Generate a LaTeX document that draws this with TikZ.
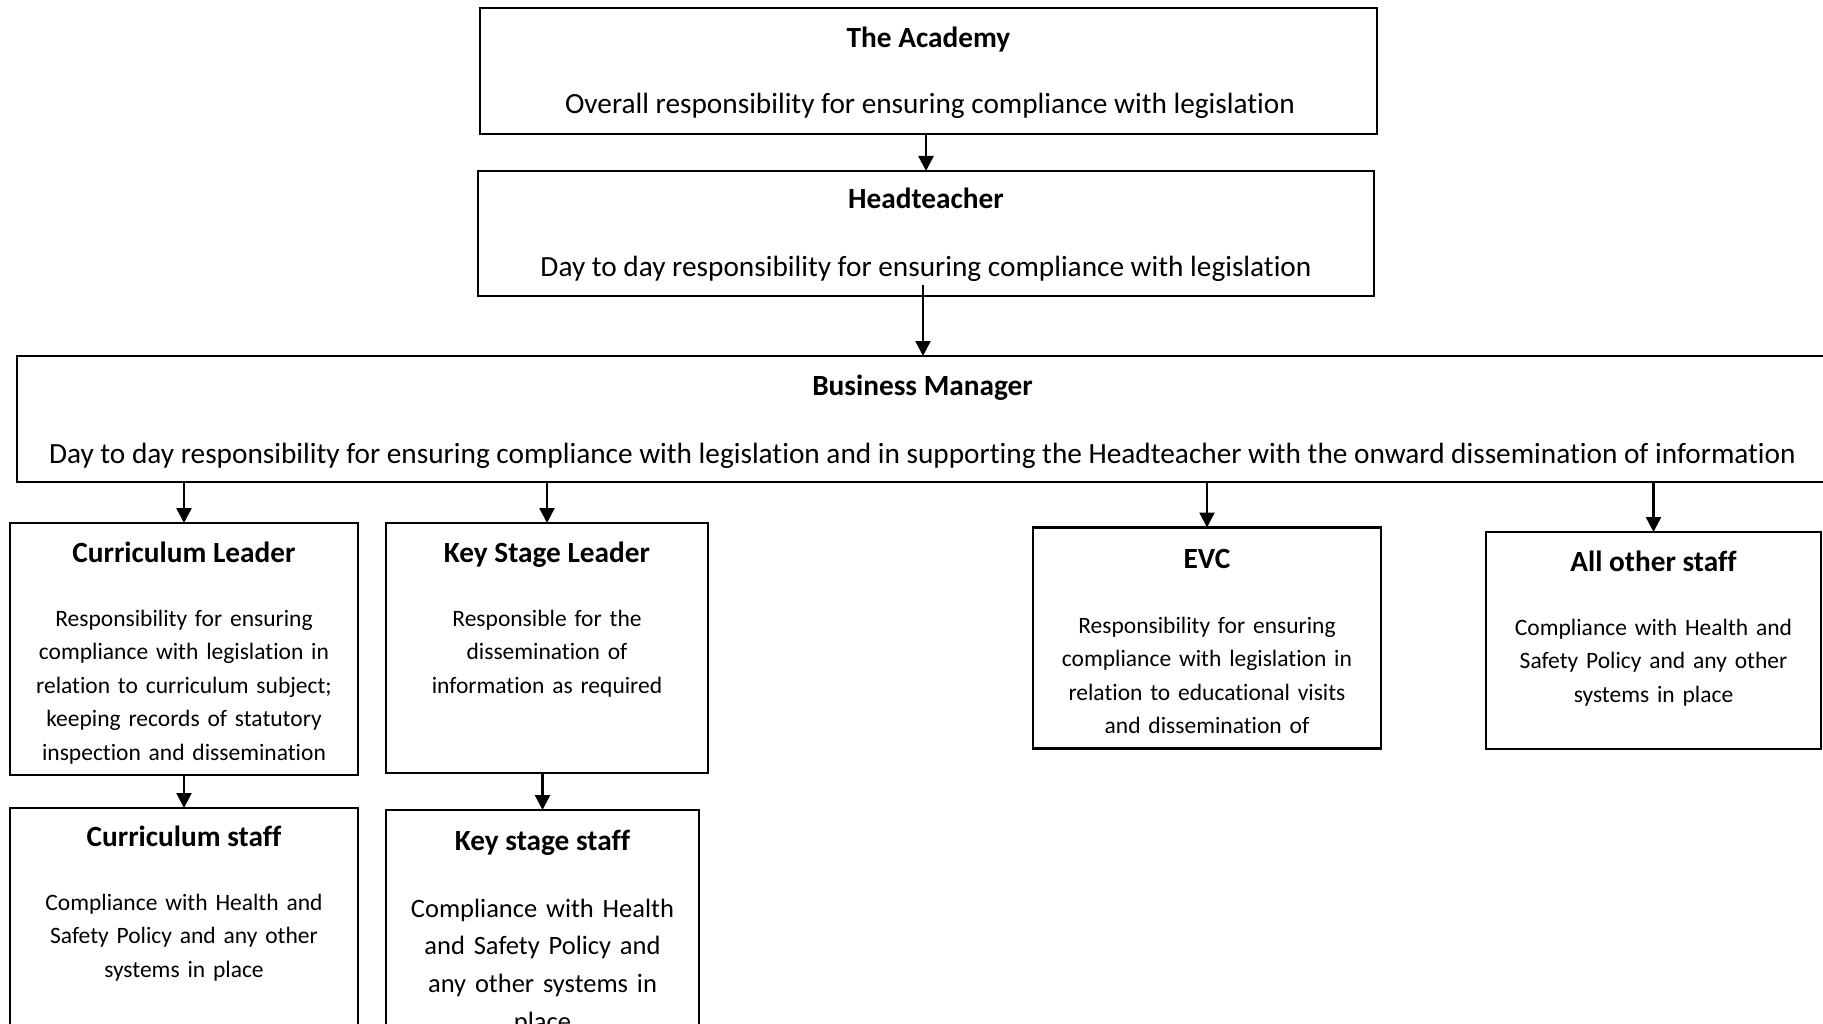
\documentclass[tikz,border=0pt]{standalone}
\usepackage{fontspec}
\setmainfont{Carlito}[Ligatures=NoCommon]
\usetikzlibrary{arrows.meta}

\begin{document}
\begin{tikzpicture}[x=1pt, y=-1pt, >={Triangle[length=15pt,width=15pt]}, line width=2.4pt,
    orgbox/.style={draw, rectangle, inner sep=0pt, outer sep=0pt},
    heading/.style={anchor=base, inner sep=0pt, font=\bfseries\fontsize{29.3}{35}\selectfont},
    duty/.style={anchor=base, inner sep=0pt, font=\fontsize{29.3}{35}\selectfont},
    dutysmall/.style={anchor=base, inner sep=0pt, align=center, text width=330pt, font=\fontsize{23.5}{33.5}\selectfont}]
\useasboundingbox (0,0) rectangle (1823,1024);
\clip (0,0) rectangle (1823,1024);
% The Academy
\node[orgbox, minimum width=897, minimum height=126] (academy) at (928.5,71) {};
\node[heading] (academyT) at (928.5,48) {The Academy};
\node[duty] (academyD) at (930,114) {Overall responsibility for ensuring compliance with legislation};
% Headteacher
\node[orgbox, minimum width=896, minimum height=125] (head) at (926,233.5) {};
\node[heading] (headT) at (926,209) {Headteacher};
\node[duty] (headD) at (926,277) {Day to day responsibility for ensuring compliance with legislation};
\draw[->] (academy.south -| head.north) -- (head.north);
% Business Manager (runs past the right edge)
\node[orgbox, minimum width=1811, minimum height=126] (bm) at (922.5,419) {};
\node[heading] (bmT) at (922.5,395) {Business Manager};
\node[duty] (bmD) at (922.5,463) {Day to day responsibility for ensuring compliance with legislation and in supporting the Headteacher with the onward dissemination of information};
\draw[->] ([xshift=-3pt,yshift=11pt]head.south) -- ([xshift=-3pt]head.south |- bm.north);
% Curriculum Leader
\node[orgbox, minimum width=348, minimum height=252] (cl) at (184,649) {};
\node[heading] (clT) at (184,562) {Curriculum Leader};
\node[dutysmall] (clD) at (184,626) {Responsibility for ensuring\\compliance with legislation in\\relation to curriculum subject;\\keeping records of statutory\\inspection and dissemination};
% Key Stage Leader
\node[orgbox, minimum width=322, minimum height=250] (ksl) at (547,648) {};
\node[heading] (kslT) at (547,562) {Key Stage Leader};
\node[dutysmall] (kslD) at (547,626) {Responsible for the\\dissemination of\\information as required};
% EVC
\node[orgbox, minimum width=348, minimum height=221] (evc) at (1207,638) {};
\node[heading] (evcT) at (1207,568) {EVC};
\node[dutysmall] (evcD) at (1207,633) {Responsibility for ensuring\\compliance with legislation in\\relation to educational visits\\and dissemination of};
% All other staff
\node[orgbox, minimum width=335, minimum height=217] (aos) at (1653.5,640.5) {};
\node[heading] (aosT) at (1653.5,571) {All other staff};
\node[dutysmall] (aosD) at (1653.5,635) {Compliance with Health and\\Safety Policy and any other\\systems in place};
\foreach \n in {cl,ksl,evc,aos}
  \draw[->] (bm.south -| \n.north) -- (\n.north);
% Curriculum staff (cut off at the bottom)
\node[orgbox, minimum width=348, minimum height=272] (cs) at (184,944) {};
\node[heading] (csT) at (184,846) {Curriculum staff};
\node[dutysmall] (csD) at (184,910) {Compliance with Health and\\Safety Policy and any other\\systems in place};
\draw[->] (cl.south -| cs.north) -- (cs.north);
% Key stage staff
\node[orgbox, minimum width=313, minimum height=270] (kss) at (542.5,945) {};
\node[heading] (kssT) at (542.5,850) {Key stage staff};
\node[dutysmall, text width=300pt, font=\fontsize{26.5}{37.7}\selectfont] (kssD) at (542.5,917) {Compliance with Health\\and Safety Policy and\\any other systems in\\place};
\draw[->] (ksl.south -| kss.north) -- (kss.north);
\end{tikzpicture}
\end{document}
